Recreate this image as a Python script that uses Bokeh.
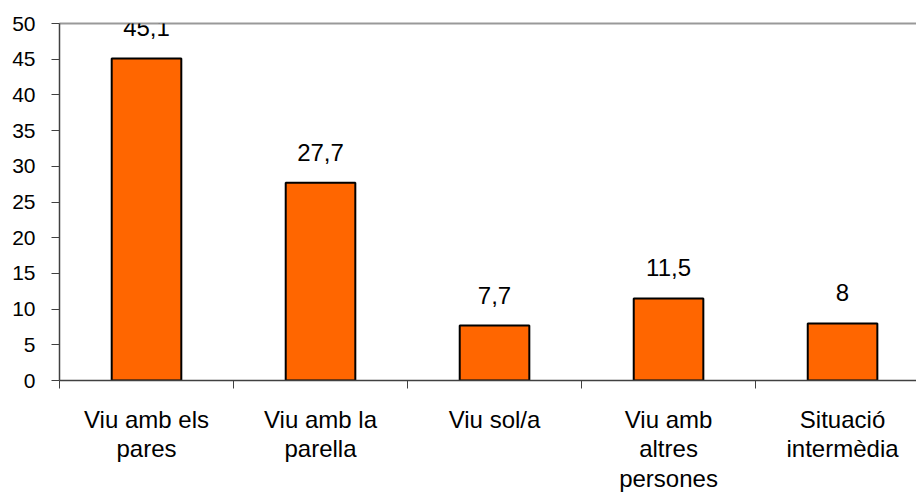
from bokeh.plotting import figure
from bokeh.models import ColumnDataSource, LabelSet, FixedTicker, LinearAxis, Range1d
from bokeh.core.properties import value
from bokeh.embed import file_html
from bokeh.resources import INLINE

categories = ["Viu amb els\npares", "Viu amb la\nparella", "Viu sol/a", "Viu amb\naltres\npersones", "Situació\nintermèdia"]
values = [45.1, 27.7, 7.7, 11.5, 8]
value_labels = ["45,1", "27,7", "7,7", "11,5", "8"]
y_ticks = [0, 5, 10, 15, 20, 25, 30, 35, 40, 45, 50]

centers = [i + 0.5 for i in range(len(categories))]
bounds = [i for i in range(len(categories) + 1)]

src = ColumnDataSource(dict(x=centers, top=values, lab=value_labels))

FONT = "Liberation Sans"

p = figure(width=916, height=496, output_backend="svg", toolbar_location=None,
           x_range=Range1d(0, 4.925), y_range=Range1d(0, 50),
           min_border_left=59, min_border_right=0, min_border_top=23, min_border_bottom=116)
p.outline_line_color = None
p.xgrid.visible = False
p.ygrid.visible = False
p.background_fill_color = "white"

p.vbar(x="x", top="top", width=0.4, source=src, fill_color="#FF6600", line_color="black", line_width=2)

labels = LabelSet(x="x", y="top", text="lab", source=src, y_offset=22, text_align="center",
                  text_baseline="alphabetic", text_font=value(FONT), text_font_size="24px",
                  text_color="black")
p.add_layout(labels)

# y axis
ya = p.yaxis[0]
ya.ticker = FixedTicker(ticks=y_ticks, minor_ticks=[])
ya.major_tick_out = 8
ya.major_tick_in = 0
ya.minor_tick_out = 0
ya.minor_tick_in = 0
ya.axis_line_color = "#404040"
ya.axis_line_width = 1.5
ya.major_tick_line_color = "#404040"
ya.major_label_text_font = FONT
ya.major_label_text_font_size = "21px"
ya.major_label_text_color = "black"
ya.major_label_standoff = 16

# x axis
xa = p.xaxis[0]
xa.ticker = FixedTicker(ticks=centers, minor_ticks=bounds)
xa.major_label_overrides = {c: lab for c, lab in zip(centers, categories)}
xa.major_tick_out = 0
xa.major_tick_in = 0
xa.minor_tick_out = 8
xa.minor_tick_in = 0
xa.minor_tick_line_color = "#404040"
xa.axis_line_color = "#404040"
xa.axis_line_width = 1.5
xa.major_label_text_font = FONT
xa.major_label_text_font_size = "24px"
xa.major_label_text_line_height = 1.1
xa.major_label_text_color = "black"
xa.major_label_standoff = 17

# top border line
top = LinearAxis(ticker=FixedTicker(ticks=[], minor_ticks=[]), major_label_text_font_size="0px",
                 axis_line_color="#999999", axis_line_width=2, major_tick_out=0, major_tick_in=0,
                 minor_tick_out=0, minor_tick_in=0)
p.add_layout(top, "above")

open("out.html", "w").write(file_html(p, INLINE))
